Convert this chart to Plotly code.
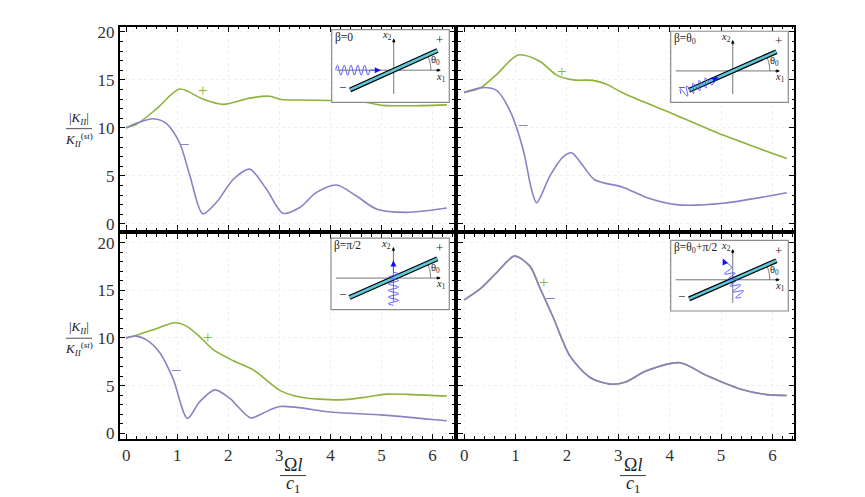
import numpy as np
import plotly.graph_objects as go

# |K_II| / K_II^(st) versus Omega*l/c1
# panel 1: beta = 0
tl_plus_x = [0, 0.21, 0.6, 1.05, 1.5, 1.9, 2.42, 2.81, 3.04, 3.4, 4.0, 4.6, 5.03, 5.5, 6.28]
tl_plus_y = [10.0, 10.4, 12.0, 14.05, 13.0, 12.45, 13.1, 13.3, 12.95, 12.9, 12.85, 12.75, 12.35, 12.3, 12.4]
tl_minus_x = [0, 0.21, 0.53, 0.79, 1.05, 1.25, 1.5, 1.77, 2.1, 2.42, 2.75, 3.07, 3.4, 3.72, 4.12, 4.51, 4.9, 5.48, 6.28]
tl_minus_y = [10.0, 10.5, 10.95, 10.45, 8.4, 5.0, 1.05, 2.25, 4.65, 5.7, 3.6, 1.1, 1.7, 3.25, 4.05, 2.9, 1.55, 1.2, 1.65]

# panel 2: beta = theta0
tr_plus_x = [0, 0.31, 0.63, 1.05, 1.47, 1.8, 2.12, 2.51, 2.77, 3.1, 4.07, 5.04, 6.28]
tr_plus_y = [13.7, 14.15, 15.55, 17.6, 16.95, 15.5, 15.0, 14.95, 14.55, 13.6, 11.45, 9.25, 6.8]
tr_minus_x = [0, 0.37, 0.63, 0.89, 1.15, 1.31, 1.41, 1.67, 1.93, 2.09, 2.32, 2.54, 3.1, 3.55, 4.13, 5.04, 6.28]
tr_minus_y = [13.7, 14.2, 13.9, 11.8, 7.7, 3.6, 2.2, 5.0, 7.0, 7.4, 6.0, 4.6, 3.8, 2.75, 2.0, 2.15, 3.25]

# panel 3: beta = pi/2
bl_plus_x = [0, 0.27, 0.6, 0.95, 1.18, 1.44, 1.7, 2.1, 2.49, 3.01, 3.4, 4.18, 4.71, 5.1, 5.62, 6.28]
bl_plus_y = [10.0, 10.4, 11.0, 11.6, 11.25, 10.15, 8.8, 7.6, 6.65, 4.5, 3.8, 3.5, 3.8, 4.1, 4.05, 3.9]
bl_minus_x = [0, 0.2, 0.4, 0.66, 0.92, 1.2, 1.44, 1.74, 2.03, 2.44, 2.68, 3.01, 4.05, 5.03, 6.28]
bl_minus_y = [10.0, 10.2, 9.8, 8.45, 5.7, 1.55, 3.3, 4.55, 3.65, 1.6, 2.1, 2.8, 2.2, 1.9, 1.3]

# panel 4: beta = theta0 + pi/2 (both tips coincide)
br_x = [0, 0.31, 0.63, 0.98, 1.28, 1.47, 1.73, 2.06, 2.45, 2.84, 3.13, 3.55, 4.2, 4.72, 5.37, 5.89, 6.28]
br_y = [14.0, 15.15, 16.85, 18.6, 17.55, 15.3, 12.2, 8.1, 5.85, 5.15, 5.35, 6.55, 7.4, 6.05, 4.65, 4.05, 3.95]

# +/- tip labels (x, y) per panel
plus_pos = [(1.5, 13.9), (1.9, 15.9), (1.61, 10.0), (1.55, 15.8)]
minus_pos = [(1.13, 8.5), (1.14, 10.45), (0.97, 6.8), (1.67, 14.4)]
beta_labels = ["β=0", "β=θ<sub>0</sub>", "β=π/2", "β=θ<sub>0</sub>+π/2"]

GREEN = "#8db33a"
PURPLE = "#8a82c4"
FONT = "Liberation Serif, DejaVu Serif, serif"
W, H = 865, 497

fig = go.Figure()

panels = [
    (tl_plus_x, tl_plus_y, tl_minus_x, tl_minus_y),
    (tr_plus_x, tr_plus_y, tr_minus_x, tr_minus_y),
    (bl_plus_x, bl_plus_y, bl_minus_x, bl_minus_y),
    (br_x, br_y, br_x, br_y),
]
for i, (px_, py_, mx_, my_) in enumerate(panels):
    ax = "" if i == 0 else str(i + 1)
    fig.add_trace(go.Scatter(x=px_, y=py_, mode="lines", line=dict(color=GREEN, width=1.6, shape="spline", smoothing=0.8),
                             xaxis="x" + ax, yaxis="y" + ax, showlegend=False, hoverinfo="skip"))
    fig.add_trace(go.Scatter(x=mx_, y=my_, mode="lines", line=dict(color=PURPLE, width=1.6, shape="spline", smoothing=0.8),
                             xaxis="x" + ax, yaxis="y" + ax, showlegend=False, hoverinfo="skip"))

# panel domains in pixels: left 120-454, right 458-794, top 23-230, bottom 234-442
xdom = {0: [120 / W, 454 / W], 1: [458 / W, 794 / W]}
ydom = {0: [1 - 230 / H, 1 - 23 / H], 1: [1 - 442 / H, 1 - 234 / H]}
yrng = {0: [-0.67, 20.55], 1: [-0.6, 20.9]}

layout = dict(width=W, height=H, margin=dict(l=0, r=0, t=0, b=0),
              paper_bgcolor="white", plot_bgcolor="white",
              font=dict(family=FONT, color="#333"), showlegend=False)

for i in range(4):
    r, c = divmod(i, 2)
    ax = "" if i == 0 else str(i + 1)
    layout["xaxis" + ax] = dict(
        domain=xdom[c], range=[-0.12, 6.42], anchor="y" + ax,
        showline=True, linewidth=2, linecolor="black", mirror="allticks",
        ticks="inside", ticklen=5, tickwidth=1, tickcolor="black", tick0=0, dtick=1,
        minor=dict(ticks="inside", ticklen=2.5, dtick=0.2, tickcolor="black", showgrid=False),
        showgrid=True, gridcolor="#efefef", griddash="dot", gridwidth=1, zeroline=False,
        showticklabels=(r == 1), tickfont=dict(family=FONT, size=17, color="#333"))
    layout["yaxis" + ax] = dict(
        domain=ydom[r], range=yrng[r], anchor="x" + ax,
        showline=True, linewidth=2, linecolor="black", mirror="allticks",
        ticks="inside", ticklen=5, tickwidth=1, tickcolor="black", tick0=0, dtick=5,
        minor=dict(ticks="inside", ticklen=2.5, dtick=1, tickcolor="black", showgrid=False),
        showgrid=True, gridcolor="#efefef", griddash="dot", gridwidth=1, zeroline=False,
        showticklabels=(c == 0), tickfont=dict(family=FONT, size=17, color="#333"))

# inset diagram boxes (pixels): x0, x1, ytop, ybottom
inset_boxes = [(331.7, 449.3, 26, 100), (670.7, 788.3, 27.7, 100), (331, 449.3, 238, 310.7), (670.7, 788.3, 240.3, 312)]
shapes = []
annotations = []
theta = np.radians(24.5)
for i, (bx0, bx1, bt, bb) in enumerate(inset_boxes):
    n = str(i + 5)
    layout["xaxis" + n] = dict(domain=[bx0 / W, bx1 / W], range=[-62, 55.5], anchor="y" + n, visible=False, fixedrange=True)
    layout["yaxis" + n] = dict(domain=[1 - bb / H, 1 - bt / H], range=[-32.5, 41], anchor="x" + n, visible=False, fixedrange=True)
    fig.add_trace(go.Scatter(x=[], y=[], xaxis="x" + n, yaxis="y" + n, showlegend=False))
    xr, yr = "x" + n, "y" + n
    shapes.append(dict(type="rect", xref=xr + " domain", yref=yr + " domain", x0=0, x1=1, y0=0, y1=1,
                       fillcolor="white", line=dict(color="#8c8c8c", width=1.2), layer="above"))
    # coordinate axes
    shapes.append(dict(type="line", xref=xr, yref=yr, x0=-57, x1=46, y0=0, y1=0, line=dict(color="#777", width=1), layer="above"))
    shapes.append(dict(type="line", xref=xr, yref=yr, x0=0, x1=0, y0=-24, y1=31, line=dict(color="#777", width=1), layer="above"))
    # angle arc
    t = np.linspace(0, theta, 12)
    arc = "M " + " L ".join(f"{37 * np.cos(a):.2f},{37 * np.sin(a):.2f}" for a in t)
    shapes.append(dict(type="path", xref=xr, yref=yr, path=arc, line=dict(color="#555", width=0.8), layer="above"))
    # incident wave direction for each beta
    if i == 0:
        s0, s1, head, ang = -58, -24, -13, 0.0
    elif i == 1:
        s0, s1, head, ang = -57, -25, -16, theta
    elif i == 2:
        s0, s1, head, ang = -28, 6, 18, np.pi / 2
    else:
        s0, s1, head, ang = -20, 12, 24, theta + np.pi / 2
    ss = np.linspace(s0, s1, 80)
    amp = 5 * np.sin(2 * np.pi * (ss - s0) / 6.8)
    d = (np.cos(ang), np.sin(ang))
    p = (-np.sin(ang), np.cos(ang))
    wx = ss * d[0] + amp * p[0]
    wy = ss * d[1] + amp * p[1]
    wpath = "M " + " L ".join(f"{a:.2f},{b:.2f}" for a, b in zip(wx, wy))
    wpath += f" L {head * d[0]:.2f},{head * d[1]:.2f}"
    # crack (bar)
    L = 48
    bar = dict(xref=xr, yref=yr, x0=-L * np.cos(theta), y0=-L * np.sin(theta), x1=L * np.cos(theta), y1=L * np.sin(theta), layer="above")
    shapes.append(dict(type="line", line=dict(color="black", width=5), **bar))
    shapes.append(dict(type="line", line=dict(color="#5cc8d8", width=2.6), **bar))
    shapes.append(dict(type="path", xref=xr, yref=yr, path=wpath, line=dict(color="#4a4aff", width=0.9), layer="above"))
    # arrowheads
    annotations.append(dict(xref=xr, yref=yr, x=head * d[0], y=head * d[1], ax=-7 * d[0], ay=7 * d[1], text="",
                            showarrow=True, arrowhead=2, arrowsize=1, arrowwidth=1.2, arrowcolor="#1010ff", standoff=0))
    annotations.append(dict(xref=xr, yref=yr, x=47, y=0, ax=-6, ay=0, text="", showarrow=True,
                            arrowhead=2, arrowsize=0.7, arrowwidth=1, arrowcolor="black", standoff=0))
    annotations.append(dict(xref=xr, yref=yr, x=0, y=32, ax=0, ay=6, text="", showarrow=True,
                            arrowhead=2, arrowsize=0.7, arrowwidth=1, arrowcolor="black", standoff=0))
    # labels
    txt = [
        (beta_labels[i], -60, 33, 11.5, "left"),
        ("<i>x</i><sub>2</sub>", -1, 35, 10.5, "right"),
        ("<i>x</i><sub>1</sub>", 47, -7, 10.5, "center"),
        ("θ<sub>0</sub>", 42, 10, 10.5, "center"),
        ("+", 46, 31, 13, "center"),
        ("−", -51, -17, 13, "center"),
    ]
    for s, x, y, sz, al in txt:
        annotations.append(dict(xref=xr, yref=yr, x=x, y=y, text=s, showarrow=False, xanchor=al, borderpad=0,
                                font=dict(family=FONT, size=sz, color="#222")))

# +/- labels in the main panels
for i in range(4):
    ax = "" if i == 0 else str(i + 1)
    annotations.append(dict(xref="x" + ax, yref="y" + ax, x=plus_pos[i][0], y=plus_pos[i][1], text="+",
                            showarrow=False, xanchor="center", font=dict(family=FONT, size=17, color=GREEN)))
    annotations.append(dict(xref="x" + ax, yref="y" + ax, x=minus_pos[i][0], y=minus_pos[i][1], text="–",
                            showarrow=False, xanchor="center", font=dict(family=FONT, size=17, color=PURPLE)))

# y-axis fraction titles
for yline in (126.7, 339.7):
    annotations.append(dict(xref="paper", yref="paper", x=79 / W, y=1 - (yline - 1) / H, xanchor="center", yanchor="bottom",
                            borderpad=0, text="|<i>K</i><sub><i>II</i></sub>|", showarrow=False,
                            font=dict(family=FONT, size=13, color="#222")))
    annotations.append(dict(xref="paper", yref="paper", x=79 / W, y=1 - (yline + 1) / H, xanchor="center", yanchor="top",
                            borderpad=0, text="<i>K</i><sub><i>II</i></sub><sup>(<i>st</i>)</sup>", showarrow=False,
                            font=dict(family=FONT, size=13, color="#222")))
    shapes.append(dict(type="line", xref="paper", yref="paper", x0=66 / W, x1=92 / W, y0=1 - yline / H, y1=1 - yline / H,
                       line=dict(color="#222", width=0.8)))

# x-axis fraction titles
for xc in (293, 633):
    annotations.append(dict(xref="paper", yref="paper", x=xc / W, y=1 - 469 / H, xanchor="center", yanchor="middle",
                            borderpad=0, text="Ω<i>l</i>", showarrow=False, font=dict(family=FONT, size=18, color="#222")))
    annotations.append(dict(xref="paper", yref="paper", x=xc / W, y=1 - 488 / H, xanchor="center", yanchor="middle",
                            borderpad=0, text="<i>c</i><sub>1</sub>", showarrow=False, font=dict(family=FONT, size=18, color="#222")))
    shapes.append(dict(type="line", xref="paper", yref="paper", x0=(xc - 13) / W, x1=(xc + 13) / W,
                       y0=1 - 479.3 / H, y1=1 - 479.3 / H, line=dict(color="#222", width=0.9)))

layout["shapes"] = shapes
layout["annotations"] = annotations
fig.update_layout(**layout)

# the browser's default 8px body margin would shift the whole figure
fig.write_html("out.html", config={"displayModeBar": False},
               post_script="document.body.style.margin='0';")
